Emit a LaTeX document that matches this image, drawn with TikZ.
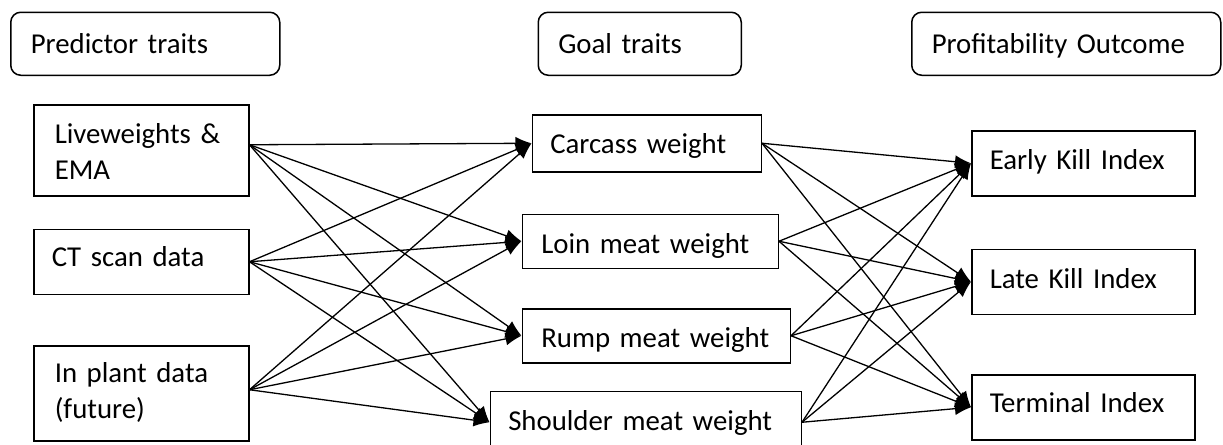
\documentclass[tikz,border=0pt]{standalone}
\usepackage{fontspec}
\setmainfont{Carlito}
\usepackage{tikz}
\usetikzlibrary{arrows.meta,positioning}
\tikzstyle{head} = [draw, rounded corners=5pt, line width=0.75pt, text=black, align=left, font=\fontsize{14.4}{18}\selectfont, minimum height=31.5pt, inner xsep=10pt, inner ysep=0pt, text height=13pt, text depth=3.5pt]
\tikzstyle{trait} = [draw, line width=0.75pt, text=black, align=left, font=\fontsize{14.4}{18}\selectfont, inner xsep=9pt, inner ysep=0pt]
\tikzstyle{tedge} = [draw, line width=0.65pt, -{Latex[length=8pt,width=6.5pt]}]

\begin{document}
\begin{tikzpicture}
\useasboundingbox (0,0) rectangle (611.5pt,-222.5pt);

% headings =============================
\node[head, text width=114.5pt, anchor=north west] (pred) at (5pt,-5.75pt) {Predictor traits};
\node[head, text width=81.5pt, right=128.5pt of pred] (goal) {Goal traits};
\node[head, text width=134.5pt, right=84.5pt of goal] (prof) {Profitability Outcome};

% predictor traits
\node[trait, text width=86.5pt, inner xsep=10.5pt, minimum height=45.5pt, text height=10pt, text depth=16.5pt, below=14pt of pred.south west, anchor=north west, xshift=11.5pt] (live) {Liveweights \&\\EMA};
\node[trait, text width=89.5pt, minimum height=32.5pt, text height=10pt, text depth=5.5pt, below=16pt of live] (ct) {CT scan data};
\node[trait, text width=86.5pt, inner xsep=10.5pt, minimum height=47.5pt, text height=10pt, text depth=20.5pt, below=25pt of ct] (plant) {In plant data\\(future)};

% goal traits
\node[trait, text width=96.5pt, minimum height=28.5pt, text height=14pt, text depth=3.5pt, below=19pt of goal.south west, anchor=north west, xshift=-3pt] (carc) {Carcass weight};
\node[trait, text width=109pt, inner xsep=9.5pt, minimum height=27pt, text height=15.5pt, text depth=3.5pt, below=20.5pt of carc.south west, anchor=north west, xshift=-5pt] (loin) {Loin meat weight};
\node[trait, text width=115pt, inner xsep=9.5pt, minimum height=27pt, text height=15.5pt, text depth=3.5pt, below=19.5pt of loin.south west, anchor=north west] (rump) {Rump meat weight};
\node[trait, text width=137.5pt, minimum height=31pt, text height=11.5pt, text depth=3.5pt, below=13.5pt of rump.south west, anchor=north west, xshift=-16pt] (shou) {Shoulder meat weight};

% profitability outcome
\node[trait, text width=93.5pt, minimum height=32.5pt, text height=10pt, text depth=3.5pt, below=27pt of prof.south west, anchor=north west, xshift=30pt] (early) {Early Kill Index};
\node[trait, text width=93.5pt, minimum height=32.5pt, text height=10pt, text depth=3.5pt, below=26pt of early] (late) {Late Kill Index};
\node[trait, text width=93.5pt, minimum height=32.5pt, text height=9pt, text depth=3.5pt, below=29.5pt of late] (term) {Terminal Index};

% edges: predictor -> goal
\path[tedge] ([yshift=2.75pt]live.east) -- (carc.west);
\path[tedge] ([yshift=2.75pt]live.east) -- (loin.west);
\path[tedge] ([yshift=2.75pt]live.east) -- (rump.west);
\path[tedge] ([yshift=2.75pt]live.east) -- (shou.west);
\path[tedge] (ct.east) -- (carc.west);
\path[tedge] (ct.east) -- (loin.west);
\path[tedge] (ct.east) -- (rump.west);
\path[tedge] (ct.east) -- (shou.west);
\path[tedge] ([yshift=1.75pt]plant.east) -- (carc.west);
\path[tedge] ([yshift=1.75pt]plant.east) -- (loin.west);
\path[tedge] ([yshift=1.75pt]plant.east) -- (rump.west);
\path[tedge] ([yshift=1.75pt]plant.east) -- (shou.west);

% edges: goal -> outcome
\path[tedge] (carc.east) -- (early.west);
\path[tedge] (carc.east) -- (late.west);
\path[tedge] (carc.east) -- (term.west);
\path[tedge] (loin.east) -- (early.west);
\path[tedge] (loin.east) -- (late.west);
\path[tedge] (loin.east) -- (term.west);
\path[tedge] (rump.east) -- (early.west);
\path[tedge] (rump.east) -- (late.west);
\path[tedge] (rump.east) -- (term.west);
\path[tedge] (shou.east) -- (early.west);
\path[tedge] (shou.east) -- (late.west);
\path[tedge] (shou.east) -- (term.west);

\end{tikzpicture}
\end{document}
